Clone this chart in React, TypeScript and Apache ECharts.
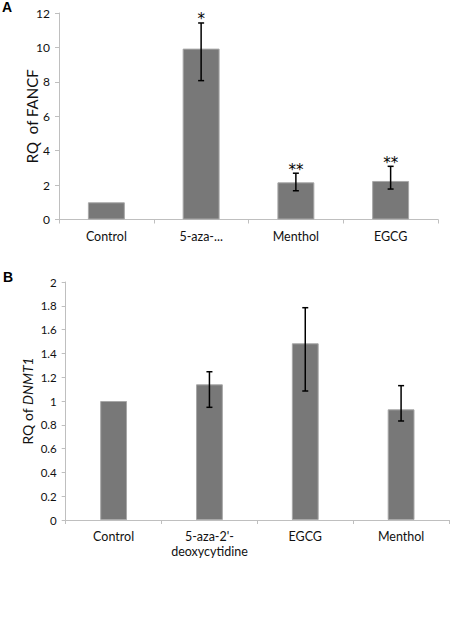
import React, { useEffect, useRef } from "react";
import * as echarts from "echarts";

const catsA = ["Control", "5-aza-...", "Menthol", "EGCG"];
const valsA = [1.0, 9.93, 2.16, 2.24];
const errLowA = [null, 8.07, 1.67, 1.77];
const errHighA = [null, 11.42, 2.69, 3.09];
const starsA = ["", "*", "**", "**"];

const catsB = ["Control", "5-aza-2'-deoxycytidine", "EGCG", "Menthol"];
const valsB = [1.0, 1.14, 1.485, 0.93];
const errLowB = [null, 0.947, 1.084, 0.832];
const errHighB = [null, 1.246, 1.784, 1.129];

const FONT = "Lato";
const BAR = "#787878";
const AXIS = "#bfbfbf";

function errData(low: (number | null)[], high: (number | null)[], stars?: string[]) {
  const out: any[] = [];
  low.forEach((l, i) => {
    if (l != null && high[i] != null) out.push([i, l, high[i], stars ? stars[i] : ""]);
  });
  return out;
}

function renderErr(params: any, api: any) {
  const i = api.value(0);
  const lo = api.coord([i, api.value(1)]);
  const hi = api.coord([i, api.value(2)]);
  const cap = 3;
  const ls = { stroke: "#000", lineWidth: 1.5 };
  const children: any[] = [
    { type: "line", shape: { x1: hi[0], y1: hi[1], x2: lo[0], y2: lo[1] }, style: ls },
    { type: "line", shape: { x1: hi[0] - cap, y1: hi[1], x2: hi[0] + cap, y2: hi[1] }, style: ls },
    { type: "line", shape: { x1: lo[0] - cap, y1: lo[1], x2: lo[0] + cap, y2: lo[1] }, style: ls },
  ];
  const star = api.value(3);
  if (star) {
    children.push({
      type: "text",
      x: hi[0],
      y: hi[1] + 4,
      style: {
        text: star,
        fill: "#000",
        font: `15px 'DejaVu Sans'`,
        align: "center",
        verticalAlign: "bottom",
      },
    });
  }
  return { type: "group", children };
}

// wrap a long label at the hyphen nearest its middle
function wrapLabel(s: string): string {
  if (s.length <= 14) return s;
  const mid = s.length / 2;
  let best = -1;
  for (let k = 0; k < s.length; k++) {
    if (s[k] === "-" && (best < 0 || Math.abs(k - mid) < Math.abs(best - mid))) best = k;
  }
  return best < 0 ? s : s.slice(0, best + 1) + "\n" + s.slice(best + 1);
}

function makeLabelRenderer(cats: string[]) {
  return (params: any, api: any) => {
    const i = api.value(0);
    const p = api.coord([i, 0]);
    return {
      type: "text",
      x: p[0],
      y: p[1] + 9,
      style: {
        text: wrapLabel(cats[i]),
        fill: "#111",
        font: `12.5px ${FONT}`,
        lineHeight: 15,
        align: "center",
        verticalAlign: "top",
      },
    };
  };
}

function makeXAxis(grid: number, data: string[]) {
  return {
    type: "category",
    gridIndex: grid,
    data,
    axisLine: { lineStyle: { color: AXIS } },
    axisTick: { show: true, length: 4, lineStyle: { color: AXIS }, interval: 0 },
    axisLabel: { show: false },
  };
}

export default function App() {
  const ref = useRef<HTMLDivElement>(null);
  useEffect(() => {
    const chart = echarts.init(ref.current!, null, { renderer: "svg" });
    chart.setOption({
      animation: false,
      backgroundColor: "#fff",
      grid: [
        { left: 59, right: 13, top: 13, bottom: 620 - 219.5 },
        { left: 65.7, right: 2, top: 282, bottom: 100 },
      ],
      xAxis: [makeXAxis(0, catsA), makeXAxis(1, catsB)],
      yAxis: [
        {
          type: "value",
          gridIndex: 0,
          min: 0,
          max: 12,
          interval: 2,
          axisLine: { show: true, lineStyle: { color: AXIS } },
          axisTick: { show: true, length: 4, lineStyle: { color: AXIS } },
          splitLine: { show: false },
          axisLabel: { color: "#111", fontFamily: FONT, fontSize: 12, margin: 9 },
          name: "RQ  of FANCF",
          nameLocation: "middle",
          nameRotate: 90,
          nameMoveOverlap: false,
          nameGap: 20,
          nameTextStyle: { color: "#111", fontFamily: FONT, fontSize: 15 },
        },
        {
          type: "value",
          gridIndex: 1,
          min: 0,
          max: 2,
          interval: 0.2,
          axisLine: { show: true, lineStyle: { color: AXIS } },
          axisTick: { show: true, length: 4, lineStyle: { color: AXIS } },
          splitLine: { show: false },
          axisLabel: { color: "#111", fontFamily: FONT, fontSize: 11.5, margin: 9 },
          name: "RQ of {i|DNMT1}",
          nameLocation: "middle",
          nameRotate: 90,
          nameMoveOverlap: false,
          nameGap: 31,
          nameTextStyle: {
            color: "#111",
            fontFamily: FONT,
            fontSize: 14,
            rich: { i: { fontStyle: "italic", fontFamily: FONT, fontSize: 14, color: "#111" } },
          },
        },
      ],
      series: [
        {
          type: "bar",
          xAxisIndex: 0,
          yAxisIndex: 0,
          data: valsA,
          barWidth: "39%",
          itemStyle: { color: BAR, borderColor: "#a8a8a8", borderWidth: 1 },
        },
        {
          type: "custom",
          xAxisIndex: 0,
          yAxisIndex: 0,
          data: errData(errLowA, errHighA, starsA),
          renderItem: renderErr,
          z: 10,
        },
        {
          type: "custom",
          xAxisIndex: 0,
          yAxisIndex: 0,
          data: catsA.map((_, i) => [i]),
          renderItem: makeLabelRenderer(catsA),
          clip: false,
          silent: true,
        },
        {
          type: "bar",
          xAxisIndex: 1,
          yAxisIndex: 1,
          data: valsB,
          barWidth: "28%",
          itemStyle: { color: BAR, borderColor: "#a8a8a8", borderWidth: 1 },
        },
        {
          type: "custom",
          xAxisIndex: 1,
          yAxisIndex: 1,
          data: errData(errLowB, errHighB),
          renderItem: renderErr,
          z: 10,
        },
        {
          type: "custom",
          xAxisIndex: 1,
          yAxisIndex: 1,
          data: catsB.map((_, i) => [i]),
          renderItem: makeLabelRenderer(catsB),
          clip: false,
          silent: true,
        },
      ],
      graphic: [
        {
          type: "text",
          left: 2,
          top: 0,
          style: { text: "A", font: "bold 14px 'Liberation Sans'", fill: "#000" },
        },
        {
          type: "text",
          left: 3,
          top: 270,
          style: { text: "B", font: "bold 14px 'Liberation Sans'", fill: "#000" },
        },
      ],
    });
    return () => chart.dispose();
  }, []);
  return (
    <div
      ref={ref}
      style={{ position: "absolute", left: 0, top: 0, width: 451, height: 620 }}
    />
  );
}
